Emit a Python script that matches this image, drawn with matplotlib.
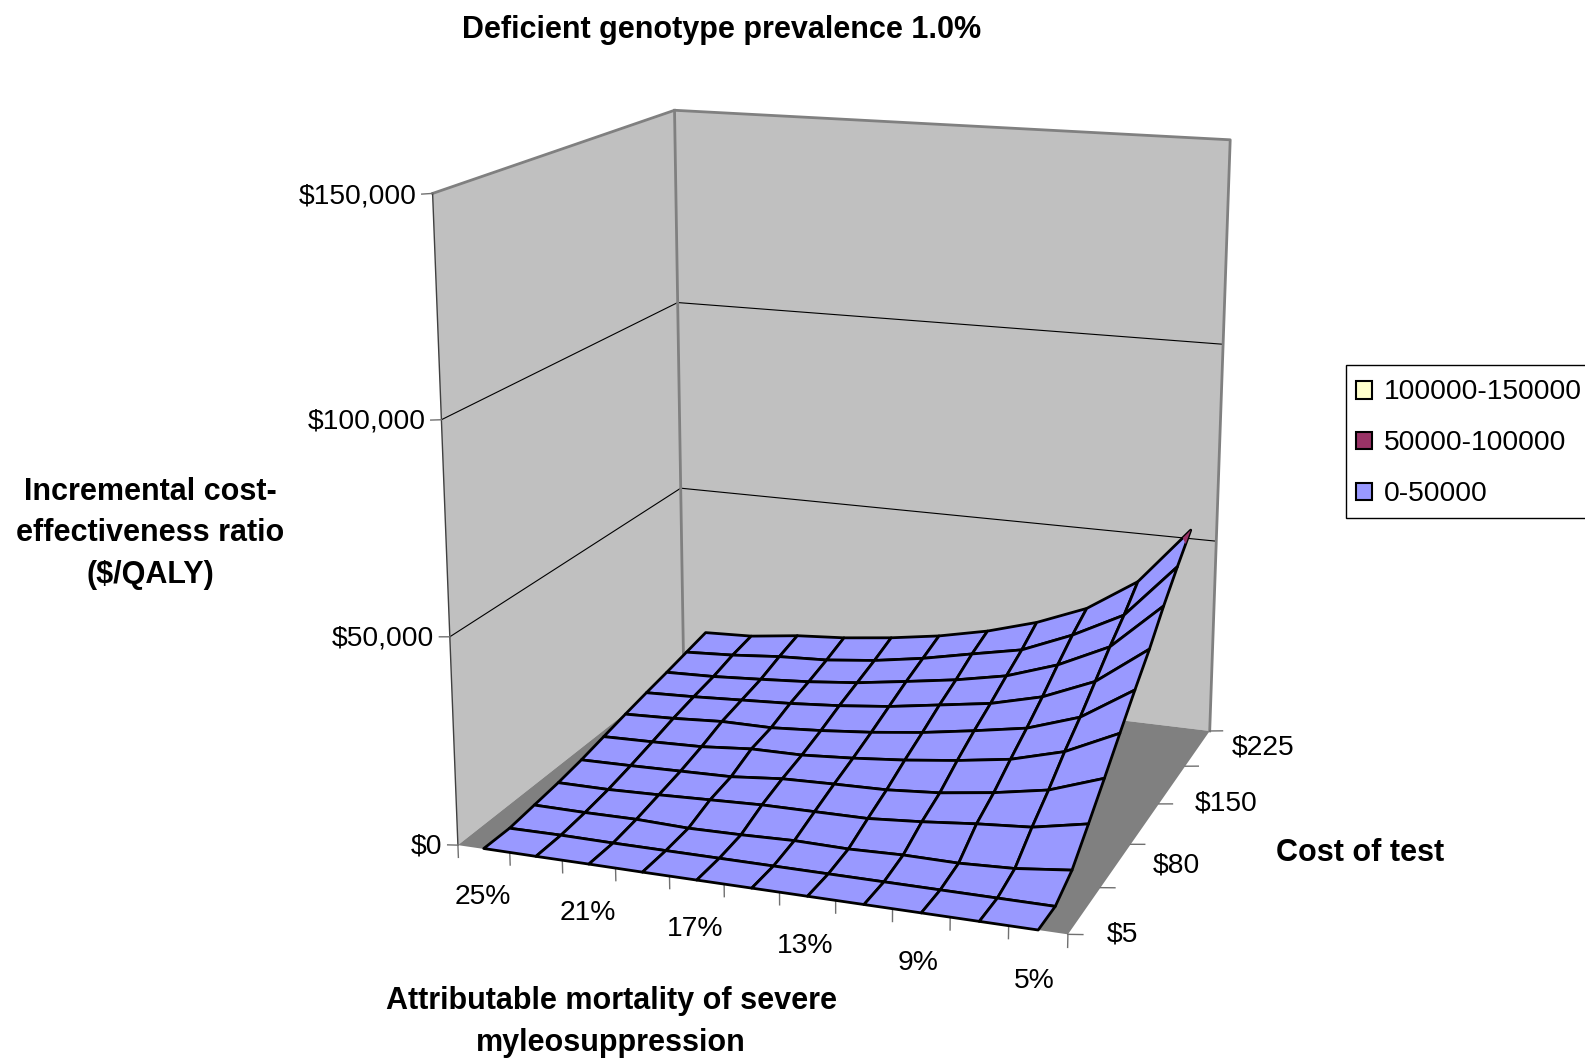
import numpy as np
import matplotlib
matplotlib.use("Agg")
import matplotlib.pyplot as plt
from matplotlib.patches import Patch, Rectangle
from mpl_toolkits.mplot3d import proj3d
from mpl_toolkits.mplot3d.art3d import Poly3DCollection

plt.rcParams["font.family"] = ["Liberation Sans", "DejaVu Sans"]

# === data ===
mortality = [25, 23, 21, 19, 17, 15, 13, 11, 9, 7, 5]   # %
mortality_labels = ["25%", "21%", "17%", "13%", "9%", "5%"]
cost_labels = ["$5", "$80", "$150", "$225"]
z_ticks = [0, 50000, 100000, 150000]
z_labels = ["$0", "$50,000", "$100,000", "$150,000"]
bands = ["100000-150000", "50000-100000", "0-50000"]
band_colors = ["#FFFFCC", "#993366", "#9999FF"]

# ICER per cost row (front to back), one value for each mortality
icer = [
    [100, 50, 50, 0, 0, 0, 0, 0, 0, 0, 0],
    [0, 100, 0, 0, 0, 0, 0, 0, 0, 0, 0],
    [800, 700, 800, 400, 600, 1000, 800, 1200, 1100, 1700, 3200],
    [1600, 1600, 2000, 2500, 3000, 3100, 3200, 4200, 5500, 6500, 9100],
    [2700, 2900, 3200, 3500, 4700, 5100, 5400, 6400, 8200, 10600, 15200],
    [4100, 4400, 4800, 5900, 6000, 6900, 8100, 9700, 11700, 15300, 21500],
    [5500, 6000, 6800, 6800, 7700, 8900, 10500, 12600, 14900, 19300, 27700],
    [6800, 7300, 8000, 8700, 9700, 11100, 13100, 15100, 18400, 23900, 33600],
    [8000, 8400, 9200, 10100, 11400, 13300, 15300, 17900, 22300, 28500, 40400],
    [9300, 10000, 11100, 11700, 13100, 15200, 17900, 20500, 25900, 32600, 46500],
    [10600, 11100, 12700, 13600, 15100, 17100, 19900, 23700, 28900, 37400, 52200],
]

Z = np.array(icer, dtype=float)
n_cost, n_mort = Z.shape
xs = np.arange(n_mort)
ys = np.arange(n_cost)
X, Y = np.meshgrid(xs, ys)
x0, x1 = -0.5, n_mort - 0.5
y0, y1 = 0, n_cost - 1
ztop = z_ticks[-1]

W, H = 1585, 1059
s, cx, cy = 5531.77, 853.05, 484.26   # camera fit: pixels per unit, centre
fig = plt.figure(figsize=(W / 100, H / 100), dpi=100)
side = 0.185 * s
ax = fig.add_axes([(cx - 0.095 * s) / W, (H - cy - 0.095 * s) / H, side / W, side / H], projection="3d")
ax.computed_zorder = False
ax.set_xlim(x0, x1, view_margin=0)
ax.set_ylim(y0, y1, view_margin=0)
ax.set_zlim(0, ztop, view_margin=0)
ax.view_init(elev=15.5119, azim=-70.1655)
ax.set_proj_type("persp", focal_length=np.exp(-0.6376))
ax.set_box_aspect((np.exp(-0.0401), np.exp(-0.1332), 1))
ax.set_axis_off()

# === walls and floor ===
wall_left = [(x0, y0, 0), (x0, y1, 0), (x0, y1, ztop), (x0, y0, ztop)]
wall_back = [(x0, y1, 0), (x1, y1, 0), (x1, y1, ztop), (x0, y1, ztop)]
floor = [(x0, y0, 0), (x1, y0, 0), (x1, y1, 0), (x0, y1, 0)]
ax.add_collection3d(Poly3DCollection([wall_left, wall_back], facecolors="#C0C0C0", edgecolors="none", zorder=1))
ax.add_collection3d(Poly3DCollection([floor], facecolors="#808080", edgecolors="none", zorder=1))

# grid lines
for z in z_ticks[1:-1]:
    ax.plot([x0, x0, x1], [y0, y1, y1], [z, z, z], color="black", lw=0.8, zorder=2)

# frame
gray = "#808080"
ax.plot([x0, x0, x1, x1], [y0, y1, y1, y1], [ztop, ztop, ztop, 0], color=gray, lw=2, zorder=2)
ax.plot([x0, x0], [y1, y1], [0, ztop], color=gray, lw=2, zorder=2)
ax.plot([x0, x0], [y0, y0], [0, ztop], color="#404040", lw=1, zorder=2)

# ticks
tick_gray = "#707070"
for z in z_ticks:
    ax.plot([x0 - 0.2, x0], [y0, y0], [z - 300, z], color=tick_gray, lw=1, zorder=2)
for t in np.arange(x0, x1 + 0.5):
    ax.plot([t, t], [y0, y0], [-3000, 0], color=tick_gray, lw=1, zorder=2)
for t in ys[::2]:
    ax.plot([x1, x1 + 0.25], [t, t], [0, 450], color=tick_gray, lw=1, zorder=2)

# === surface ===
ax.plot_surface(X, Y, Z, rstride=1, cstride=1, color=band_colors[2], edgecolor="black",
                linewidth=2.0, shade=False, antialiased=True, zorder=3)

# the corner that goes over the 50000 band
tip = Z[-1, -1]
fa = (tip - 50000) / (tip - Z[-1, -2])
fb = (tip - 50000) / (tip - Z[-2, -1])
tri = [(xs[-1], ys[-1], tip), (xs[-1] - fa, ys[-1], 50000), (xs[-1], ys[-1] - fb, 50000)]
ax.add_collection3d(Poly3DCollection([tri], facecolors=band_colors[1], edgecolors="none", zorder=4))

# === tick labels ===
fs = 20.3
M = ax.get_proj()
def tick_text(x, y, z, txt, ha):
    tx, ty, _ = proj3d.proj_transform(x, y, z, M)
    ax.text2D(tx, ty, txt, transform=ax.transData, ha=ha, va="center", fontsize=fs, color="black")

for z, lab in zip(z_ticks, z_labels):
    tick_text(x0 - 0.30, y0, z - 800, lab, "right")
for lab, i in zip(mortality_labels, xs[::2]):
    tick_text(i - 0.05, y0, -11800, lab, "center")
for lab, j in zip(cost_labels, ys[::3]):
    tick_text(x1 + 0.65, j, 1200, lab, "left")

# === titles ===
def label(px, py, txt, size=22, spacing=1.5):
    fig.text(px / W, 1 - py / H, txt, ha="center", va="center", fontsize=size, fontweight="bold",
             linespacing=spacing, color="black")

label(722, 30, "Deficient genotype prevalence 1.0%")
label(150, 533, "Incremental cost-\neffectiveness ratio\n($/QALY)")
label(1360, 853, "Cost of test")
label(611, 1022, "Attributable mortality of severe\nmyleosuppression")

# === legend ===
fig.add_artist(Rectangle((1346 / W, 1 - 518 / H), (W - 1346 + 10) / W, 153 / H, transform=fig.transFigure,
                         facecolor="white", edgecolor="black", linewidth=1))
handles = [Patch(facecolor=c, edgecolor="black", linewidth=1.5) for c in band_colors]
fig.legend(handles, bands, loc="upper left", bbox_to_anchor=(1355.5 / W, 1 - 379.5 / H), borderaxespad=0,
           fontsize=fs, frameon=False, handlelength=0.6, handleheight=0.6, handletextpad=0.4,
           labelspacing=0.885, borderpad=0)

fig.savefig("out.png", dpi=100)
